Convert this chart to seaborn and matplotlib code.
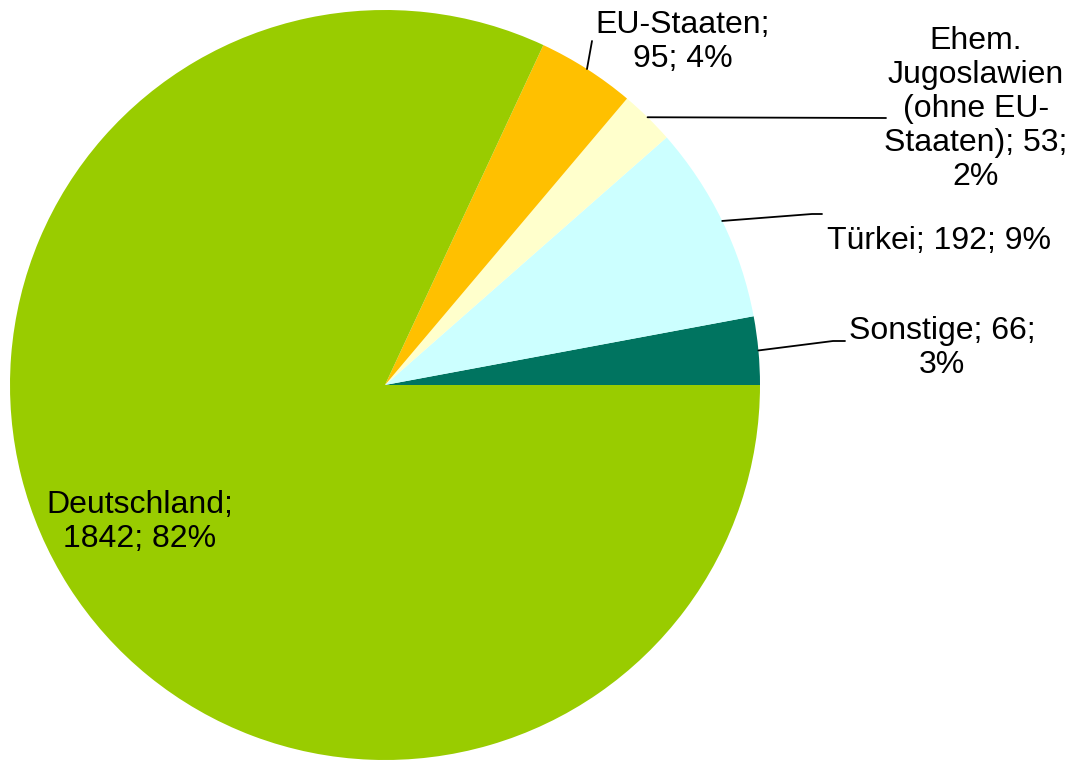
import numpy as np
import matplotlib
matplotlib.use("Agg")
import matplotlib.pyplot as plt
import seaborn as sns

sns.set_theme(style="white")
plt.rcParams["font.family"] = ["Liberation Sans", "DejaVu Sans"]

# Slices, counter-clockwise from 3 o'clock
categories = ["Sonstige", "Türkei", "Ehem.\nJugoslawien\n(ohne EU-\nStaaten)", "EU-Staaten", "Deutschland"]
values = [66, 192, 53, 95, 1842]
percents = [3, 9, 2, 4, 82]
colors = ["#007460", "#CCFFFF", "#FFFFCC", "#FFC000", "#99CC00"]

label_texts = [
    "Sonstige; 66;\n3%",
    "Türkei; 192; 9%",
    "Ehem.\nJugoslawien\n(ohne EU-\nStaaten); 53;\n2%",
    "EU-Staaten;\n95; 4%",
    "Deutschland;\n1842; 82%",
]

W, H = 1075, 760
CX, CY, R = 385, 385, 375


def px(x, y):
    """Pixel position (from top-left) to pie data coordinates."""
    return (x - CX) / R, (CY - y) / R


# Label centres and leader-line bends (pixels); None = no leader line
label_pos = [(942, 348), (939, 241), (976, 109), (683, 42), (140, 522)]
leader_pts = [
    [(833, 341), (845, 341)],
    [(812, 214), (822, 214)],
    [(886, 118)],
    [(592, 41)],
    None,
]

fig = plt.figure(figsize=(W / 100, H / 100), dpi=100)
ax = fig.add_axes([(CX - R) / W, (H - CY - R) / H, 2 * R / W, 2 * R / H])

wedges, _ = ax.pie(values, colors=colors, startangle=0, counterclock=True,
                   radius=1, wedgeprops=dict(linewidth=0))
ax.set_xlim(-1, 1)
ax.set_ylim(-1, 1)
ax.set_aspect("equal")
ax.axis("off")

for w, text, pos, pts in zip(wedges, label_texts, label_pos, leader_pts):
    tx, ty = px(*pos)
    ax.text(tx, ty, text, ha="center", va="center", multialignment="center",
            fontsize=23, color="black", linespacing=1.17)
    if pts is not None:
        mid = np.deg2rad((w.theta1 + w.theta2) / 2)
        xs = [np.cos(mid)] + [px(*p)[0] for p in pts]
        ys = [np.sin(mid)] + [px(*p)[1] for p in pts]
        ax.plot(xs, ys, color="black", lw=1.3, clip_on=False)

fig.savefig("out.png", dpi=100)
